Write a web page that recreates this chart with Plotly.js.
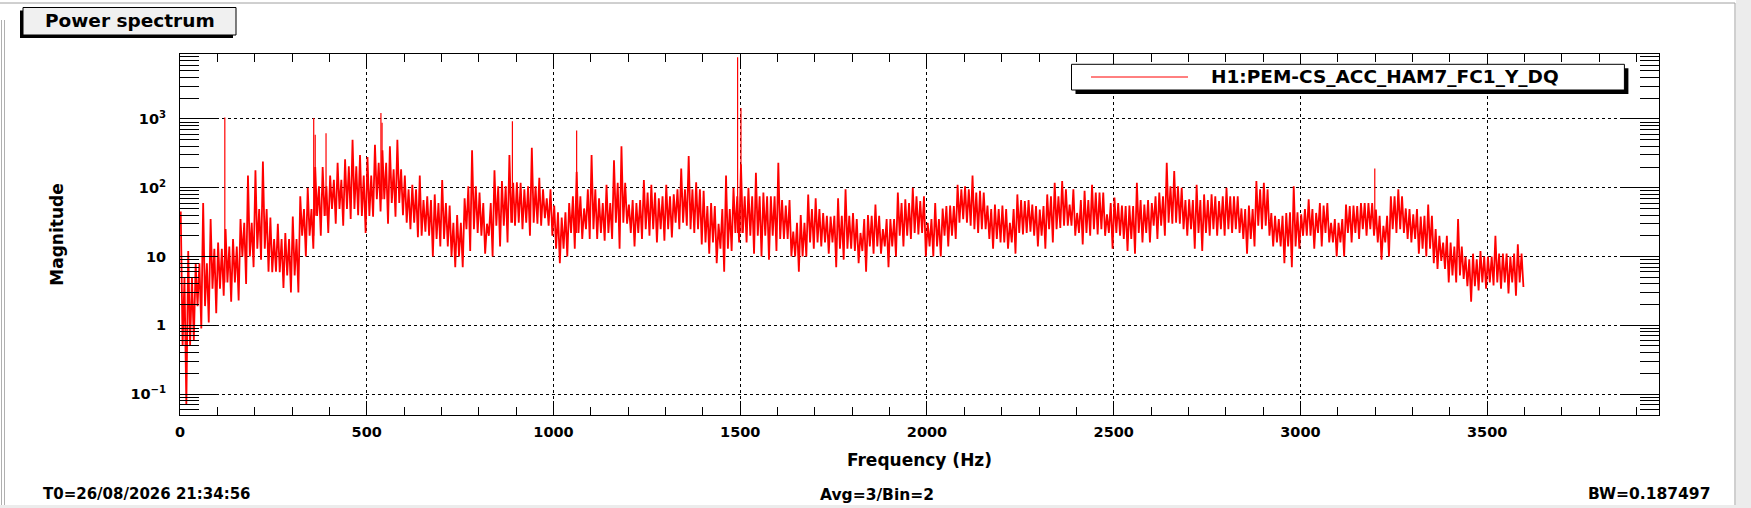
<!DOCTYPE html>
<html>
<head>
<meta charset="utf-8">
<script src="https://cdn.plot.ly/plotly-3.0.1.min.js"></script>
<style>
  html, body { margin: 0; padding: 0; background: #fff; }
</style>
</head>
<body>
<div id="chart" style="width:1751px;height:508px"></div>
<script>
// spectrum: max and min magnitude in each 20 Hz bin, 0..3600 Hz
const binHz = 20;
const binHi = [
  45, 12, 8, 60, 35, 16, 25, 18, 35, 150,
  180, 240, 37, 30, 22, 38, 75, 100, 200, 200,
  150, 230, 260, 500, 300, 280, 420, 350, 400, 500,
  150, 110, 150, 75, 80, 130, 55, 40, 70, 350,
  85, 30, 180, 125, 300, 120, 95, 380, 140, 70,
  55, 37, 60, 170, 50, 300, 70, 110, 250, 400,
  57, 60, 130, 110, 70, 110, 80, 190, 290, 120,
  90, 60, 30, 150, 100, 220, 100, 165, 85, 75,
  230, 55, 23, 40, 80, 70, 43, 38, 70, 95,
  43, 22, 40, 57, 25, 35, 85, 68, 100, 64,
  31, 60, 50, 55, 110, 105, 150, 90, 55, 57,
  55, 31, 80, 64, 57, 48, 80, 118, 125, 57,
  43, 90, 110, 85, 41, 72, 55, 55, 118, 57,
  60, 85, 230, 175, 100, 68, 110, 80, 80, 64,
  100, 75, 50, 55, 125, 118, 43, 35, 43, 105,
  41, 68, 43, 55, 31, 31, 57, 55, 60, 60,
  48, 28, 75, 95, 50, 41, 38, 57, 25, 16,
  16, 35, 10, 11, 12, 10, 20, 11, 10, 15
];
const binLo = [
  0.07, 0.6, 0.9, 1.1, 1.5, 2.7, 2.2, 2.3, 4, 7,
  9, 6, 6, 3.5, 3, 3, 10, 13, 20, 22,
  30, 28, 35, 40, 22, 38, 45, 30, 38, 40,
  25, 19, 23, 10, 14, 14, 7, 7, 12, 22,
  11, 10, 14, 16, 28, 25, 20, 30, 36, 20,
  8, 10, 13, 18, 18, 18, 17, 18, 13, 30,
  14, 18, 20, 16, 17, 19, 25, 28, 22, 15,
  11, 8, 6, 12, 16, 16, 11, 10, 9, 12,
  18, 10, 6, 10, 13, 14, 11, 7, 9, 13,
  8, 6, 11, 11, 7, 10, 14, 18, 21, 10,
  10, 10, 14, 18, 35, 28, 22, 25, 13, 16,
  13, 11, 21, 23, 14, 13, 16, 26, 28, 20,
  15, 20, 21, 20, 13, 20, 12, 11, 16, 16,
  18, 20, 30, 30, 20, 13, 12, 20, 20, 20,
  22, 22, 11, 14, 25, 20, 16, 8, 7, 13,
  20, 13, 14, 16, 10, 10, 16, 18, 20, 20,
  9, 10, 22, 22, 16, 11, 10, 8, 8.6, 4.2,
  4.2, 4.7, 2.2, 3.2, 3.4, 3.8, 3.4, 2.9, 2.7, 3.6
];

// dense part of the noise band, per 40 Hz bin (upper / lower edge)
const coreHz = 40;
const coreHi = [
  5, 8, 13, 14, 31, 49, 18, 18, 49, 105,
  130, 205, 150, 230, 185, 95, 66, 60, 31, 105,
  60, 105, 118, 105, 95, 44, 75, 95, 60, 118,
  66, 85, 75, 95, 95, 54, 49, 75, 75, 75,
  66, 31, 49, 39, 39, 35, 39, 35, 60, 75,
  35, 54, 95, 85, 49, 49, 66, 54, 75, 95,
  66, 85, 60, 54, 66, 75, 105, 66, 66, 75,
  75, 49, 95, 39, 44, 49, 60, 35, 54, 60,
  39, 75, 49, 39, 20, 14, 9.1, 10, 11, 11
];
const coreLo = [
  0.5, 1.9, 3.4, 4.2, 10, 13, 5.9, 5.3, 20, 39,
  49, 49, 39, 68, 60, 31, 20, 18, 10, 25,
  20, 28, 31, 31, 28, 13, 22, 25, 22, 31,
  22, 25, 25, 31, 25, 16, 13, 22, 20, 20,
  18, 10, 16, 16, 13, 12, 14, 14, 20, 22,
  14, 20, 31, 25, 18, 16, 22, 20, 25, 28,
  22, 25, 22, 18, 22, 28, 31, 25, 22, 25,
  25, 18, 28, 14, 14, 20, 22, 16, 22, 25,
  16, 25, 18, 13, 6.6, 5.3, 3.7, 4.2, 4.2, 4.2
];

// narrow lines standing out of the noise
const lineHz  = [120, 358, 362, 391, 538, 541, 890, 1062, 1493, 1502, 3199];
const lineMag = [1050, 1030, 590, 620, 1220, 880, 930, 680, 7900, 1440, 190];

const xTicks = [0, 500, 1000, 1500, 2000, 2500, 3000, 3500];
const xMinor = [100, 200, 300, 400, 600, 700, 800, 900, 1100, 1200, 1300, 1400,
  1600, 1700, 1800, 1900, 2100, 2200, 2300, 2400, 2600, 2700, 2800, 2900,
  3100, 3200, 3300, 3400, 3600, 3700, 3800, 3900];
const yTicks = [0.1, 1, 10, 100, 1000];
const yTickText = ['10<sup>\u22121</sup>', '1', '10', '10<sup>2</sup>', '10<sup>3</sup>'];
const yMinor = [0.05, 0.06, 0.07, 0.08, 0.09, 0.2, 0.3, 0.4, 0.5, 0.6, 0.7, 0.8, 0.9,
  2, 3, 4, 5, 6, 7, 8, 9, 20, 30, 40, 50, 60, 70, 80, 90,
  200, 300, 400, 500, 600, 700, 800, 900, 2000, 3000, 4000, 5000, 6000, 7000, 8000];

const channel = 'H1:PEM-CS_ACC_HAM7_FC1_Y_DQ';
const red = '#ff0000';

// each 20 Hz bin drawn as max -> core low -> core high -> min
const x = [];
const y = [];
binHi.forEach((hi, i) => {
  const f0 = i * binHz;
  const j = Math.floor(f0 / coreHz);
  x.push(f0 + 2, f0 + 7, f0 + 12, f0 + 17);
  y.push(hi, coreLo[j], coreHi[j], binLo[i]);
});

const lx = [];
const ly = [];
lineHz.forEach((f, i) => {
  lx.push(f, f, null);
  ly.push(coreLo[Math.floor(f / coreHz)], lineMag[i], null);
});

const spectrum = {
  x, y,
  type: 'scatter',
  mode: 'lines',
  line: { color: red, width: 1.8 },
  name: channel,
  hoverinfo: 'skip'
};
const lines = {
  x: lx, y: ly,
  type: 'scatter',
  mode: 'lines',
  line: { color: red, width: 1.2 },
  showlegend: false,
  hoverinfo: 'skip'
};

// pixel -> paper helpers for the frame decorations
const L = 180, R = 1659, T = 54, B = 415;
const px = v => (v - L) / (R - L);
const py = v => (B - v) / (B - T);

const bold = (size) => ({ family: 'DejaVu Sans', size, color: '#000', weight: 'bold' });

const rect = (x0, y0, x1, y1, fill, lineW) => ({
  type: 'rect', xref: 'paper', yref: 'paper',
  x0: px(x0), x1: px(x1), y0: py(y1), y1: py(y0),
  fillcolor: fill, line: { color: '#000', width: lineW }, layer: 'above'
});
const seg = (x0, y0, x1, y1, color, w) => ({
  type: 'line', xref: 'paper', yref: 'paper',
  x0: px(x0), x1: px(x1), y0: py(y0), y1: py(y1),
  line: { color, width: w }, layer: 'above'
});

const axisCommon = {
  showline: true, linecolor: '#000', linewidth: 1, mirror: 'ticks',
  ticks: 'inside', tickcolor: '#000', tickwidth: 1,
  showgrid: true, gridcolor: '#000', gridwidth: 1, griddash: 'dot',
  zeroline: false, tickfont: bold(14.5)
};

const layout = {
  width: 1751, height: 508,
  margin: { l: L, r: 1751 - R, t: T, b: 508 - B },
  paper_bgcolor: '#fff', plot_bgcolor: '#fff',
  showlegend: false,
  xaxis: {
    ...axisCommon,
    range: [0, 3960],
    tickmode: 'array', tickvals: xTicks, ticktext: xTicks.map(String),
    ticklen: 14, ticklabelstandoff: 4,
    minor: { tickmode: 'array', tickvals: xMinor, ticks: 'inside', ticklen: 8, tickcolor: '#000', showgrid: false },
    title: { text: 'Frequency (Hz)', font: bold(17), standoff: 14 }
  },
  yaxis: {
    ...axisCommon,
    type: 'log',
    range: [-1.305, 3.945],
    tickmode: 'array', tickvals: yTicks, ticktext: yTickText,
    ticklen: 38, ticklabelstandoff: 10,
    minor: { tickmode: 'array', tickvals: yMinor, ticks: 'inside', ticklen: 19, tickcolor: '#000', showgrid: false },
    title: { text: 'Magnitude', font: bold(17), standoff: 62 }
  },
  shapes: [
    // window frame
    seg(0, 3, 1735, 3, '#a0a0a0', 1),
    seg(1735, 3, 1735, 505, '#a0a0a0', 1),
    seg(1.5, 20, 1.5, 505, '#b0b0b0', 1),
    seg(4.5, 20, 4.5, 505, '#b0b0b0', 1),
    rect(1736, 0, 1751, 508, '#ececec', 0),
    rect(0, 505, 1751, 508, '#ececec', 0),
    // title pave
    rect(20, 10.5, 233, 38, '#000', 0),
    rect(23, 7.5, 236, 35, '#f0f0f0', 1),
    // legend box
    rect(1075.5, 68.3, 1628.4, 94, '#000', 0),
    rect(1071.5, 64.3, 1624.4, 90, '#fff', 1),
    seg(1091, 77, 1188, 77, red, 1)
  ],
  annotations: [
    { text: 'Power spectrum', xref: 'paper', yref: 'paper', x: px(130), y: py(21),
      xanchor: 'center', yanchor: 'middle', showarrow: false, font: bold(18.5) },
    { text: channel, xref: 'paper', yref: 'paper', x: px(1209), y: py(77),
      xanchor: 'left', yanchor: 'middle', showarrow: false, font: bold(18.5) },
    { text: 'T0=26/08/2026 21:34:56', xref: 'paper', yref: 'paper', x: px(41), y: py(493.5),
      xanchor: 'left', yanchor: 'middle', showarrow: false, font: bold(15) },
    { text: 'Avg=3/Bin=2', xref: 'paper', yref: 'paper', x: px(877), y: py(495),
      xanchor: 'center', yanchor: 'middle', showarrow: false, font: bold(15.5) },
    { text: 'BW=0.187497', xref: 'paper', yref: 'paper', x: px(1712), y: py(493.5),
      xanchor: 'right', yanchor: 'middle', showarrow: false, font: bold(15.5) }
  ]
};

Plotly.newPlot('chart', [spectrum, lines], layout, { displayModeBar: false, staticPlot: true });
</script>
</body>
</html>
